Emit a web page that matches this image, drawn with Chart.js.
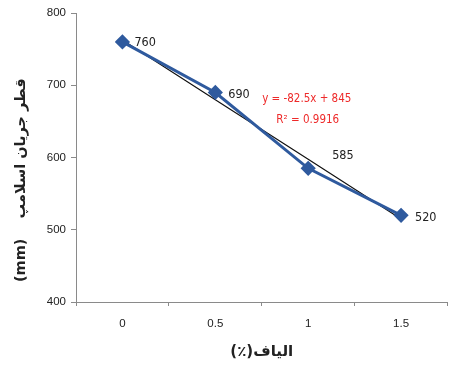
<!DOCTYPE html>
<html>
<head>
<meta charset="utf-8">
<script src="https://cdn.jsdelivr.net/npm/chart.js@4"></script>
<style>
  html, body { margin: 0; padding: 0; background: #fff; overflow: hidden; }
  #wrap { width: 454px; height: 365px; overflow: hidden; }
</style>
</head>
<body>
<div id="wrap"><canvas id="chart" width="456" height="365"></canvas></div>
<script>
// Chart data
const categories = ['0', '0.5', '1', '1.5'];
const slumpValues = [760, 690, 585, 520];
const trendValues = [762.5, 680, 597.5, 515];   // y = -82.5x + 845
const yTicks = [400, 500, 600, 700, 800];
const equationLines = ['y = -82.5x + 845', 'R\u00B2 = 0.9916'];

// label offsets from each point (px)
const labelOffsets = [[12, 1], [13, 2], [24, -13], [14, 2]];

const narrowFont = "'Liberation Sans Narrow', 'DejaVu Sans Condensed', 'Liberation Sans', sans-serif";

const pointLabels = {
    id: 'pointLabels',
    afterDatasetsDraw(chart) {
        const ctx = chart.ctx;
        const x = chart.scales.x;
        const y = chart.scales.y;
        ctx.save();
        ctx.font = '12.5px ' + narrowFont;
        ctx.fillStyle = '#222';
        ctx.textAlign = 'left';
        ctx.textBaseline = 'middle';
        slumpValues.forEach((v, i) => {
            const px = x.getPixelForValue(i) + labelOffsets[i][0];
            const py = y.getPixelForValue(v) + labelOffsets[i][1];
            ctx.fillText(String(v), px, py);
        });

        // trendline equation
        ctx.fillStyle = '#ee2a2a';
        ctx.font = '11.5px ' + narrowFont;
        ctx.textAlign = 'center';
        const ex = (x.getPixelForValue(1) + x.getPixelForValue(2)) / 2 + 45;
        const ey = y.getPixelForValue(700) + 14;
        ctx.fillText(equationLines[0], ex, ey);
        ctx.fillText(equationLines[1], ex + 1, ey + 21);
        ctx.restore();
    }
};

new Chart(document.getElementById('chart'), {
    type: 'line',
    data: {
        labels: categories,
        datasets: [{
            label: 'slump',
            data: slumpValues,
            borderColor: '#2f5a9e',
            backgroundColor: '#2f5a9e',
            borderWidth: 3,
            pointStyle: 'rectRot',
            pointRadius: 5.5,
            tension: 0
        }, {
            label: 'trend',
            data: trendValues,
            borderColor: '#111',
            borderWidth: 1.2,
            pointRadius: 0,
            tension: 0
        }]
    },
    options: {
        responsive: false,
        animation: false,
        devicePixelRatio: 1,
        layout: { padding: { top: 13, right: 0, left: 0, bottom: 0 } },
        plugins: {
            legend: { display: false },
            tooltip: { enabled: false }
        },
        scales: {
            x: {
                offset: true,
                grid: {
                    offset: true,
                    drawOnChartArea: false,
                    tickLength: 4,
                    color: '#8a8a8a'
                },
                border: { color: '#8a8a8a', width: 1 },
                ticks: {
                    padding: 11,
                    color: '#222',
                    font: { family: 'Liberation Sans', size: 11.5 }
                },
                title: {
                    display: true,
                    text: '(٪)الیاف',
                    color: '#222',
                    font: { family: 'DejaVu Sans', size: 15, weight: 'bold' },
                    padding: { top: 0, bottom: 4 }
                },
                afterFit(scale) { scale.height = 63; }
            },
            y: {
                min: 400,
                max: 800,
                afterBuildTicks(scale) {
                    scale.ticks = yTicks.map(v => ({ value: v }));
                },
                grid: {
                    drawOnChartArea: false,
                    tickLength: 5,
                    color: '#8a8a8a'
                },
                border: { color: '#8a8a8a', width: 1 },
                ticks: {
                    padding: 5,
                    color: '#222',
                    font: { family: 'Liberation Sans', size: 11.5 }
                },
                title: {
                    display: true,
                    text: '(mm)    قطر جریان اسلامپ' + '\u00A0'.repeat(9),
                    color: '#222',
                    font: { family: 'DejaVu Sans', size: 14.5, weight: 'bold' },
                    padding: { top: 13, bottom: 0 }
                },
                afterFit(scale) { scale.width = 76; }
            }
        }
    },
    plugins: [pointLabels]
});
</script>
</body>
</html>
